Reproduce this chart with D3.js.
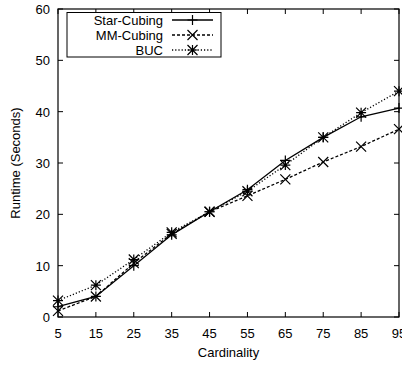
<!DOCTYPE html>
<html>
<head>
<meta charset="utf-8">
<script src="https://cdn.jsdelivr.net/npm/d3@7"></script>
<style>
  body { margin: 0; background: #fff; }
  svg { display: block; font-family: "Liberation Sans", Arial, sans-serif; }
</style>
</head>
<body>
<svg id="chart"></svg>
<script>
const w = 402, h = 367;

// data
const cardinality = [5, 15, 25, 35, 45, 55, 65, 75, 85, 95];
const starCubing = [2, 4, 10, 16, 20.5, 24.8, 30.5, 35, 39, 40.7];
const mmCubing = [1.2, 4, 10.5, 16.2, 20.5, 23.6, 26.8, 30.2, 33.2, 36.6];
const buc = [3.2, 6.2, 11.2, 16.5, 20.5, 24.5, 29.6, 35, 39.8, 44];
const yTicks = [0, 10, 20, 30, 40, 50, 60];

const series = [
  { name: "Star-Cubing", values: starCubing, dash: null, marker: "plus" },
  { name: "MM-Cubing", values: mmCubing, dash: "3,2", marker: "cross" },
  { name: "BUC", values: buc, dash: "1.2,2", marker: "star" }
];

const m = { left: 58, top: 9, right: 399, bottom: 317 };

const svg = d3.select("#chart")
  .attr("width", w)
  .attr("height", h)

const x = d3.scaleLinear().domain([5, 95]).range([m.left, m.right]);
const y = d3.scaleLinear().domain([0, 60]).range([m.bottom, m.top]);

// frame
svg.append("rect")
  .attr("x", m.left).attr("y", m.top)
  .attr("width", m.right - m.left).attr("height", m.bottom - m.top)
  .attr("fill", "none").attr("stroke", "#000").attr("stroke-width", 1.2)

// axes with inward ticks, mirrored on top/right
const tk = 5;
const ax = svg.append("g").attr("stroke", "#000").attr("stroke-width", 1);
cardinality.forEach(c => {
  ax.append("line").attr("x1", x(c)).attr("x2", x(c)).attr("y1", m.bottom).attr("y2", m.bottom - tk);
  ax.append("line").attr("x1", x(c)).attr("x2", x(c)).attr("y1", m.top).attr("y2", m.top + tk);
});
yTicks.forEach(t => {
  ax.append("line").attr("x1", m.left).attr("x2", m.left + tk).attr("y1", y(t)).attr("y2", y(t));
  ax.append("line").attr("x1", m.right).attr("x2", m.right - tk).attr("y1", y(t)).attr("y2", y(t));
});

svg.append("g")
  .selectAll("text")
  .data(cardinality)
  .enter()
  .append("text")
    .attr("x", d => x(d))
    .attr("y", m.bottom + 21)
    .attr("text-anchor", "middle")
    .attr("font-size", 13)
    .text(d => d)

svg.append("g")
  .selectAll("text")
  .data(yTicks)
  .enter()
  .append("text")
    .attr("x", m.left - 8)
    .attr("y", d => y(d) + 5)
    .attr("text-anchor", "end")
    .attr("font-size", 13)
    .text(d => d)

svg.append("text")
  .attr("x", (m.left + m.right) / 2).attr("y", 357)
  .attr("text-anchor", "middle").attr("font-size", 13)
  .text("Cardinality")

svg.append("text")
  .attr("transform", `translate(20,${(m.top + m.bottom) / 2}) rotate(-90)`)
  .attr("text-anchor", "middle").attr("font-size", 13)
  .text("Runtime (Seconds)")

// marker shapes
function marker(g, type, cx, cy) {
  const s = 5;
  const p = g.append("path").attr("fill", "none").attr("stroke", "#000").attr("stroke-width", 1.2);
  let d = "";
  if (type === "plus" || type === "star") d += `M${cx - s},${cy}H${cx + s}M${cx},${cy - s}V${cy + s}`;
  if (type === "cross" || type === "star") d += `M${cx - s},${cy - s}L${cx + s},${cy + s}M${cx - s},${cy + s}L${cx + s},${cy - s}`;
  p.attr("d", d);
}

const line = d3.line().x(d => x(d[0])).y(d => y(d[1]));

series.forEach(s => {
  const pts = cardinality.map((c, i) => [c, s.values[i]]);
  const g = svg.append("g");
  g.append("path")
    .attr("d", line(pts))
    .attr("fill", "none").attr("stroke", "#000").attr("stroke-width", 1.3)
    .attr("stroke-dasharray", s.dash)
  pts.forEach(p => marker(g, s.marker, x(p[0]), y(p[1])));
});

// legend
const lg = svg.append("g");
lg.append("rect")
  .attr("x", 67).attr("y", 12.5).attr("width", 154).attr("height", 44.5)
  .attr("fill", "#fff").attr("stroke", "#000").attr("stroke-width", 1)
series.forEach((s, i) => {
  const ly = 20 + i * 15;
  lg.append("text")
    .attr("x", 163).attr("y", ly + 4.5)
    .attr("text-anchor", "end").attr("font-size", 13)
    .text(s.name)
  lg.append("line")
    .attr("x1", 172).attr("x2", 213).attr("y1", ly).attr("y2", ly)
    .attr("stroke", "#000").attr("stroke-width", 1.3)
    .attr("stroke-dasharray", s.dash)
  marker(lg, s.marker, 192.5, ly);
});
</script>
</body>
</html>
